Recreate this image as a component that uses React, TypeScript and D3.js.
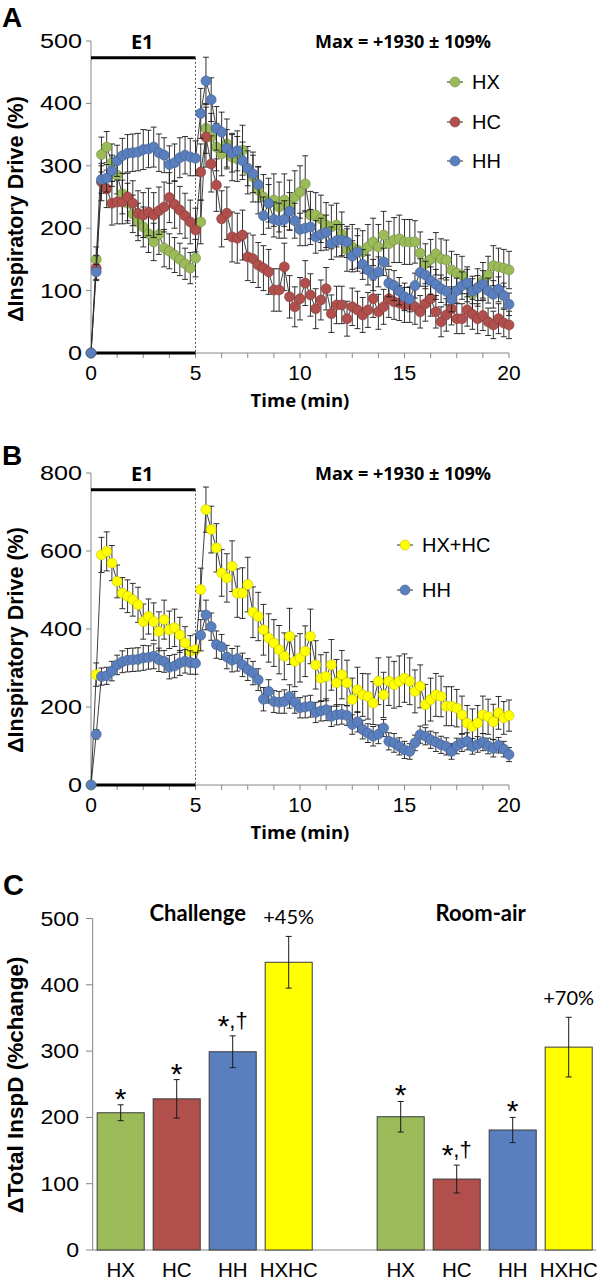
import React from 'react';
import * as d3 from 'd3';

// ---------- DATA ----------
const TIME_MIN = [
  0, 0.25, 0.5, 0.75, 1, 1.25, 1.5, 1.75, 2, 2.25,
  2.5, 2.75, 3, 3.25, 3.5, 3.75, 4, 4.25, 4.5, 4.75,
  5, 5.25, 5.5, 5.75, 6, 6.25, 6.5, 6.75, 7, 7.25,
  7.5, 7.75, 8, 8.25, 8.5, 8.75, 9, 9.25, 9.5, 9.75,
  10, 10.25, 10.5, 10.75, 11, 11.25, 11.5, 11.75, 12, 12.25,
  12.5, 12.75, 13, 13.25, 13.5, 13.75, 14, 14.25, 14.5, 14.75,
  15, 15.25, 15.5, 15.75, 16, 16.25, 16.5, 16.75, 17, 17.25,
  17.5, 17.75, 18, 18.25, 18.5, 18.75, 19, 19.25, 19.5, 19.75,
  20,
];

const HX_VALUES = [
  0, 150, 318, 330, 305, 285, 255, 240, 223, 210,
  202, 191, 178, 190, 168, 163, 157, 150, 143, 136,
  152, 210, 360, 346, 330, 319, 335, 314, 311, 325,
  293, 282, 261, 250, 240, 245, 234, 245, 237, 250,
  258, 271, 221, 221, 215, 205, 202, 205, 190, 165,
  170, 165, 162, 170, 178, 170, 189, 175, 181, 183,
  178, 178, 178, 160, 143, 150, 159, 151, 149, 133,
  128, 125, 110, 95, 105, 115, 125, 140, 138, 136,
  133,
];
const HX_ERRORS = [
  0, 20, 28, 25, 30, 30, 32, 32, 30, 30,
  32, 30, 30, 32, 30, 28, 28, 26, 25, 25,
  30, 35, 40, 38, 38, 35, 40, 38, 36, 40,
  38, 40, 38, 36, 40, 42, 40, 42, 40, 42,
  42, 45, 38, 36, 38, 36, 35, 35, 36, 34,
  36, 34, 34, 36, 38, 36, 38, 36, 36, 38,
  36, 36, 34, 34, 32, 32, 34, 32, 32, 30,
  30, 30, 28, 28, 30, 30, 30, 32, 30, 30,
  30,
];

const HC_VALUES = [
  0, 136, 274, 263, 240, 242, 242, 250, 240, 224,
  221, 226, 221, 228, 234, 249, 238, 229, 220, 210,
  197, 290, 346, 303, 269, 215, 224, 186, 184, 189,
  154, 151, 141, 136, 130, 101, 101, 138, 90, 74,
  87, 112, 93, 71, 85, 103, 63, 77, 77, 55,
  74, 69, 61, 69, 87, 66, 74, 87, 82, 80,
  77, 77, 74, 66, 79, 87, 66, 50, 61, 71,
  55, 55, 69, 62, 55, 60, 50, 45, 55, 48,
  45,
];
const HC_ERRORS = [
  0, 20, 30, 30, 35, 35, 35, 38, 36, 36,
  36, 38, 36, 38, 40, 40, 38, 38, 36, 35,
  35, 45, 48, 45, 42, 45, 42, 40, 40, 40,
  38, 38, 36, 36, 36, 34, 34, 38, 34, 32,
  34, 36, 34, 32, 32, 34, 30, 30, 30, 28,
  30, 30, 28, 28, 30, 28, 28, 30, 28, 28,
  28, 28, 28, 26, 28, 28, 26, 24, 26, 26,
  24, 24, 26, 24, 24, 24, 22, 22, 24, 22,
  22,
];

const HH_VALUES = [
  0, 130, 278, 280, 292, 308, 316, 320, 321, 322,
  326, 327, 330, 321, 317, 302, 305, 313, 317, 314,
  312, 384, 436, 406, 360, 354, 328, 320, 324, 308,
  296, 287, 270, 220, 240, 214, 212, 214, 227, 212,
  198, 200, 202, 186, 190, 193, 176, 180, 181, 178,
  155, 162, 142, 133, 125, 130, 146, 112, 108, 99,
  90, 86, 108, 129, 125, 116, 110, 103, 99, 86,
  100, 108, 112, 99, 104, 110, 100, 94, 102, 92,
  78,
];
const HH_ERRORS = [
  0, 12, 22, 22, 25, 25, 28, 30, 30, 30,
  32, 30, 32, 30, 28, 30, 30, 32, 30, 30,
  28, 40, 38, 35, 35, 32, 30, 30, 32, 30,
  28, 30, 28, 30, 30, 28, 28, 30, 30, 28,
  26, 28, 28, 26, 26, 28, 26, 26, 25, 25,
  25, 26, 24, 24, 25, 24, 22, 22, 24, 22,
  22, 20, 20, 22, 22, 22, 24, 22, 22, 20,
  20, 22, 22, 20, 20, 22, 20, 22, 20, 20,
  18,
];

const HXHC_VALUES = [
  0, 283, 590, 599, 569, 522, 492, 484, 475, 462,
  419, 432, 419, 394, 424, 398, 403, 385, 364, 343,
  347, 501, 706, 655, 608, 544, 531, 561, 492, 492,
  514, 443, 432, 398, 377, 364, 347, 330, 381, 317,
  326, 343, 381, 308, 274, 278, 308, 262, 283, 262,
  219, 244, 231, 227, 210, 266, 231, 266, 257, 266,
  274, 266, 240, 253, 206, 219, 231, 227, 202, 202,
  197, 180, 159, 150, 159, 180, 175, 162, 185, 172,
  178,
];
const HXHC_ERRORS = [
  0, 30, 45, 50, 45, 42, 40, 42, 42, 45,
  45, 45, 48, 50, 50, 48, 48, 45, 42, 40,
  40, 55, 58, 60, 62, 60, 62, 65, 62, 65,
  70, 65, 62, 65, 62, 60, 62, 60, 72, 65,
  62, 65, 70, 62, 60, 62, 65, 60, 62, 58,
  55, 58, 55, 58, 55, 60, 58, 62, 60, 65,
  62, 60, 55, 55, 52, 55, 55, 52, 50, 50,
  48, 48, 45, 45, 45, 48, 45, 45, 42, 42,
  40,
];

const X_TICKS = [0, 5, 10, 15, 20];
const X_MINOR_TICKS = [0, 1.25, 2.5, 3.75, 5, 6.25, 7.5, 8.75, 10, 11.25, 12.5, 13.75, 15, 16.25, 17.5, 18.75, 20];
const A_Y_TICKS = [0, 100, 200, 300, 400, 500];
const B_Y_TICKS = [0, 200, 400, 600, 800];
const C_Y_TICKS = [0, 100, 200, 300, 400, 500];

const BAR_GROUPS = ['HX', 'HC', 'HH', 'HXHC'];
const CHALLENGE_VALUES = [207, 228, 299, 434];
const CHALLENGE_ERRORS = [12, 29, 24, 39];
const ROOMAIR_VALUES = [201, 107, 181, 306];
const ROOMAIR_ERRORS = [23, 21, 19, 45];
const CHALLENGE_MARKS = ['*', '*', '*,\u2020', '+45%'];
const ROOMAIR_MARKS = ['*', '*,\u2020', '*', '+70%'];

// ---------- STYLE ----------
const C_HX = '#9BBB59';
const C_HC = '#B04F4C';
const C_HH = '#5A7FBE';
const C_Y = '#FFFF00';
const BAR_COLORS = [C_HX, C_HC, C_HH, C_Y];
const AXIS = '#868686';
const ARIAL = "'Liberation Sans', Arial, sans-serif";
const OPEN = "'Open Sans', sans-serif";
const LATO = "Lato, sans-serif";

const xTime = d3.scaleLinear().domain([0, 20]).range([91, 509]);
const yA = d3.scaleLinear().domain([0, 500]).range([353, 41]);
const yB = d3.scaleLinear().domain([0, 800]).range([785, 473]);

type S = { name: string; values: number[]; errors: number[]; color: string };

function Series({ s, y }: { s: S; y: d3.ScaleLinear<number, number> }) {
  const line = d3.line<number>().x((_, i) => xTime(TIME_MIN[i])).y((d) => y(d));
  return (
    <g>
      {s.values.map((v, i) =>
        s.errors[i] > 0 ? (
          <g key={'e' + i} stroke="#1a1a1a" strokeWidth={0.9}>
            <line x1={xTime(TIME_MIN[i])} x2={xTime(TIME_MIN[i])} y1={y(v - s.errors[i])} y2={y(v + s.errors[i])} />
            <line x1={xTime(TIME_MIN[i]) - 3} x2={xTime(TIME_MIN[i]) + 3} y1={y(v + s.errors[i])} y2={y(v + s.errors[i])} />
            <line x1={xTime(TIME_MIN[i]) - 3} x2={xTime(TIME_MIN[i]) + 3} y1={y(v - s.errors[i])} y2={y(v - s.errors[i])} />
          </g>
        ) : null
      )}
      <path d={line(s.values) || ''} fill="none" stroke="#2a2a2a" strokeWidth={0.9} />
      {s.values.map((v, i) => (
        <circle key={'c' + i} cx={xTime(TIME_MIN[i])} cy={y(v)} r={5} fill={s.color}
          stroke={d3.color(s.color)!.darker(0.8).formatHex()} strokeWidth={0.6} />
      ))}
    </g>
  );
}

function TimePanel({ y, yTicks, series, e1Value, panelLabel, panelLabelY, titleY, legendX, legendYs }: any) {
  const y0 = y(0);
  const yTop = y.range()[1];
  const yBar = y(e1Value);
  return (
    <g>
      <text x={2} y={panelLabelY} fontFamily={ARIAL} fontWeight="bold" fontSize={28}>{panelLabel}</text>
      {/* y axis */}
      <line x1={xTime(0)} x2={xTime(0)} y1={y0} y2={yTop} stroke={AXIS} />
      {yTicks.map((t: number) => (
        <g key={t}>
          <line x1={xTime(0) - 5} x2={xTime(0)} y1={y(t)} y2={y(t)} stroke={AXIS} />
          <text transform={`translate(${xTime(0) - 9},${y(t) + 7}) scale(1.2,1)`} textAnchor="end" fontFamily={ARIAL} fontSize={21}>{t}</text>
        </g>
      ))}
      <text transform={`translate(23,${titleY}) rotate(-90)`} textAnchor="middle" fontFamily={ARIAL} fontWeight="bold" fontSize={21.5}>
        ΔInspiratory Drive (%)
      </text>
      {/* x axis */}
      <line x1={xTime(0)} x2={xTime(20)} y1={y0} y2={y0} stroke={AXIS} />
      {X_MINOR_TICKS.map((t) => (
        <line key={t} x1={xTime(t)} x2={xTime(t)} y1={y0} y2={y0 + 5} stroke={AXIS} />
      ))}
      {X_TICKS.map((t) => (
        <text key={t} x={xTime(t)} y={y0 + 27} textAnchor="middle" fontFamily={ARIAL} fontSize={21}>{t}</text>
      ))}
      <text x={xTime(10)} y={y0 + 54} textAnchor="middle" fontFamily={OPEN} fontWeight="bold" fontSize={18.5}>Time (min)</text>
      {/* E1 marker */}
      <line x1={xTime(0)} x2={xTime(5)} y1={yBar} y2={yBar} stroke="#000" strokeWidth={3} />
      <line x1={xTime(0)} x2={xTime(5)} y1={y0} y2={y0} stroke="#000" strokeWidth={3} />
      <line x1={xTime(5)} x2={xTime(5)} y1={yBar} y2={y0} stroke="#555" strokeWidth={1} strokeDasharray="2,2" />
      <text x={xTime(2.45)} y={yBar - 9} textAnchor="middle" fontFamily={OPEN} fontWeight="bold" fontSize={20}>E1</text>
      <text x={315} y={yBar - 10} fontFamily={OPEN} fontWeight="bold" fontSize={18}>Max = +1930 ± 109%</text>
      {series.map((s: S) => <Series key={s.name} s={s} y={y} />)}
      {/* legend */}
      {series.map((s: S, i: number) => (
        <g key={'l' + s.name}>
          <line x1={legendX - 8} x2={legendX + 8} y1={legendYs[i]} y2={legendYs[i]} stroke="#2a2a2a" />
          <circle cx={legendX} cy={legendYs[i]} r={5} fill={s.color} stroke={d3.color(s.color)!.darker(0.8).formatHex()} strokeWidth={0.6} />
          <text x={legendX + 17} y={legendYs[i] + 7} fontFamily={ARIAL} fontSize={20}>{s.name}</text>
        </g>
      ))}
    </g>
  );
}

const CAT_KEYS = ['c0', 'c1', 'c2', 'c3', 'gap', 'r0', 'r1', 'r2', 'r3'];
const xC = d3.scaleBand<string>().domain(CAT_KEYS).range([92.7, 596.7]).paddingInner(0.16).paddingOuter(0.08);
const yC = d3.scaleLinear().domain([0, 500]).range([1250, 918.5]);

function Mark({ cx, eTop, mark }: { cx: number; eTop: number; mark: string }) {
  if (mark.startsWith('+')) {
    return <text x={cx} y={eTop - 12} textAnchor="middle" fontFamily={LATO} fontSize={20}>{mark}</text>;
  }
  if (mark === '*') {
    return <text x={cx} y={eTop + 4} textAnchor="middle" fontFamily={ARIAL} fontSize={30}>*</text>;
  }
  // "*,†"
  return (
    <text x={cx} y={eTop - 8} textAnchor="middle" fontFamily={ARIAL} fontSize={22}>
      <tspan fontSize={30} dy={8}>*</tspan>
      <tspan dy={-8}>,</tspan>
      <tspan>{mark.slice(2)}</tspan>
    </text>
  );
}

function BarPanel() {
  const groups = [
    { prefix: 'c', values: CHALLENGE_VALUES, errors: CHALLENGE_ERRORS, marks: CHALLENGE_MARKS, title: 'Challenge', dx: -7 },
    { prefix: 'r', values: ROOMAIR_VALUES, errors: ROOMAIR_ERRORS, marks: ROOMAIR_MARKS, title: 'Room-air', dx: -4 },
  ];
  const bw = xC.bandwidth();
  return (
    <g>
      <text x={3} y={895} fontFamily={ARIAL} fontWeight="bold" fontSize={29}>C</text>
      <line x1={92.7} x2={92.7} y1={yC(0)} y2={yC(500)} stroke={AXIS} />
      <line x1={92.7} x2={596} y1={yC(0)} y2={yC(0)} stroke={AXIS} />
      {C_Y_TICKS.map((t) => (
        <g key={t}>
          <line x1={86} x2={92.7} y1={yC(t)} y2={yC(t)} stroke={AXIS} />
          <text transform={`translate(79,${yC(t) + 7}) scale(1.1,1)`} textAnchor="end" fontFamily={ARIAL} fontSize={21}>{t}</text>
        </g>
      ))}
      <text transform={`translate(23,1085) rotate(-90)`} textAnchor="middle" fontFamily={ARIAL} fontWeight="bold" fontSize={22.5}>
        ΔTotal InspD (%change)
      </text>
      {groups.map((g) => (
        <g key={g.prefix}>
          <text x={(xC(g.prefix + '0')! + xC(g.prefix + '3')! + bw) / 2 + g.dx} y={921} textAnchor="middle" fontFamily={LATO} fontWeight="bold" fontSize={22}>{g.title}</text>
          {BAR_GROUPS.map((name, i) => {
            const x0 = xC(g.prefix + i)!;
            const cx = x0 + bw / 2;
            const top = yC(g.values[i]);
            const eTop = yC(g.values[i] + g.errors[i]);
            const eBot = yC(g.values[i] - g.errors[i]);
            return (
              <g key={name}>
                <rect x={x0} y={top} width={bw} height={yC(0) - top} fill={BAR_COLORS[i]} stroke="#3a3a3a" strokeWidth={1} />
                <line x1={cx} x2={cx} y1={eTop} y2={eBot} stroke="#1a1a1a" />
                <line x1={cx - 3} x2={cx + 3} y1={eTop} y2={eTop} stroke="#1a1a1a" />
                <line x1={cx - 3} x2={cx + 3} y1={eBot} y2={eBot} stroke="#1a1a1a" />
                <Mark cx={cx} eTop={eTop} mark={g.marks[i]} />
                <text x={cx} y={1277} textAnchor="middle" fontFamily={ARIAL} fontSize={20.5}>{name}</text>
              </g>
            );
          })}
        </g>
      ))}
    </g>
  );
}

export default function App() {
  const seriesA: S[] = [
    { name: 'HX', values: HX_VALUES, errors: HX_ERRORS, color: C_HX },
    { name: 'HC', values: HC_VALUES, errors: HC_ERRORS, color: C_HC },
    { name: 'HH', values: HH_VALUES, errors: HH_ERRORS, color: C_HH },
  ];
  const seriesB: S[] = [
    { name: 'HX+HC', values: HXHC_VALUES, errors: HXHC_ERRORS, color: C_Y },
    { name: 'HH', values: HH_VALUES, errors: HH_ERRORS, color: C_HH },
  ];
  return (
    <svg width={600} height={1281} style={{ position: 'absolute', left: 0, top: 0, display: 'block' }}>
      <rect width={600} height={1281} fill="#fff" />
      <TimePanel y={yA} yTicks={A_Y_TICKS} series={seriesA} e1Value={473} panelLabel="A" panelLabelY={27}
        titleY={209} legendX={455} legendYs={[82, 122, 161]} />
      <TimePanel y={yB} yTicks={B_Y_TICKS} series={seriesB} e1Value={757} panelLabel="B" panelLabelY={465}
        titleY={640} legendX={405} legendYs={[545, 590]} />
      <BarPanel />
    </svg>
  );
}
